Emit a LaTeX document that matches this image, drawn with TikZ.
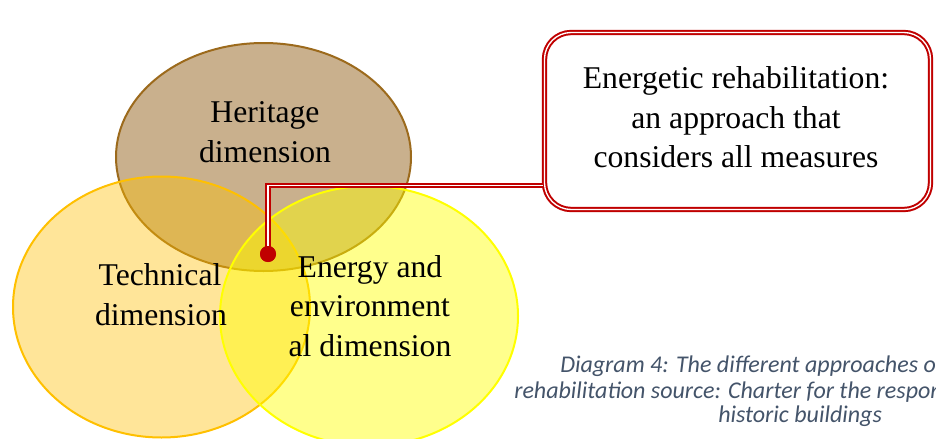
\documentclass[tikz,border=0pt]{standalone}
\usepackage{fontspec}
\setmainfont{Liberation Serif}
\newfontfamily\capfont{Carlito}
\usetikzlibrary{shapes.geometric}
\definecolor{herfill}{HTML}{C9B08D}
\definecolor{herline}{HTML}{9C6A1C}
\definecolor{techcol}{HTML}{FFC000}
\definecolor{enercol}{HTML}{FFFF00}
\definecolor{callred}{HTML}{C00000}
\definecolor{capgray}{HTML}{44546A}
\begin{document}
\begin{tikzpicture}[x=0.75pt,y=-0.75pt,
  dim/.style={ellipse,inner sep=0pt,line width=1.5pt},
  lbl/.style={anchor=base,inner sep=0pt,font=\fontsize{23.75}{30}\selectfont},
  captext/.style={anchor=base west,inner sep=0pt,text=capgray,font=\capfont\itshape\fontsize{18}{22}\selectfont},
  conn/.style={draw=callred,line width=1.5pt,double=white,double distance=1pt}]
\useasboundingbox (0,0) rectangle (936,439);
\clip (0,0) rectangle (936,439);
\fill[white] (0,0) rectangle (936,439);

% the three overlapping dimensions
\node[dim,draw=herline,fill=herfill,minimum width=221.25pt,minimum height=171pt] (heritage) at (263.5,157) {};
\node[dim,draw=techcol,fill=techcol,fill opacity=0.4,minimum width=222.75pt,minimum height=195.75pt] (technical) at (161.5,307) {};
\node[dim,draw=enercol,fill=enercol,fill opacity=0.45,minimum width=223.5pt,minimum height=195pt] (energy) at (369,316) {};

\node[lbl] (her1) at (265,122) {Heritage};
\node[lbl] (her2) at (265,162) {dimension};
\node[lbl] (tech1) at (160,285) {Technical};
\node[lbl] (tech2) at (161,325) {dimension};
\node[lbl] (ener1) at (370,277) {Energy and};
\node[lbl] (ener2) at (370,316) {environment};
\node[lbl] (ener3) at (370,356) {al dimension};

% callout box with its pointer
\node[conn,rounded corners=20pt,minimum width=289.5pt,minimum height=132.75pt,inner sep=0pt] (box) at (737.5,121) {};
\node[lbl] (box1) at (736,88) {Energetic rehabilitation:};
\node[lbl] (box2) at (736,128) {an approach that};
\node[lbl] (box3) at (736,167) {considers all measures};

\coordinate (join) at (543,185.5);
\node[circle,fill=callred,minimum size=12pt,inner sep=0pt] (dot) at (268,254) {};
\draw[conn] (join) -| (dot.center);
\node[circle,fill=callred,minimum size=12pt,inner sep=0pt] at (dot) {};

% caption
\node[captext] (cap1) at (560,372) {Diagram 4: The different approaches of};
\node[captext] (cap2) at (514,398) {rehabilitation source: Charter for the responsible};
\node[captext] (cap3) at (718,422) {historic buildings};
\end{tikzpicture}
\end{document}
